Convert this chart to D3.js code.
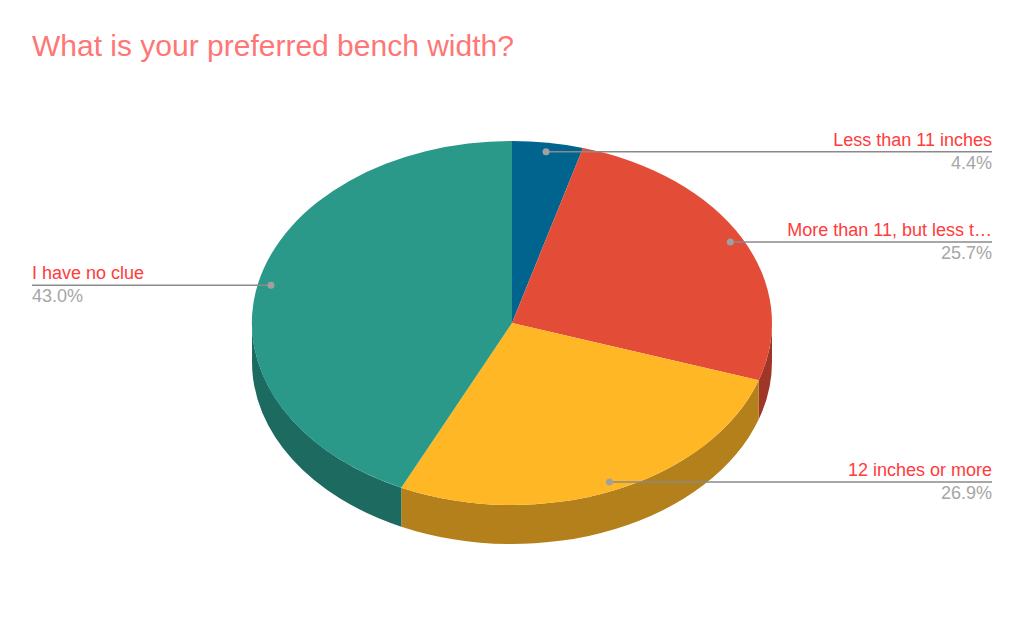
<!DOCTYPE html>
<html>
<head>
<meta charset="utf-8">
<script src="https://cdn.jsdelivr.net/npm/d3@7"></script>
<style>
  html, body { margin: 0; padding: 0; background: #fff; overflow: hidden; }
  text { font-family: "Liberation Sans", Arial, sans-serif; }
</style>
</head>
<body>
<div id="chart"></div>
<script>
var title = "What is your preferred bench width?";
var categories = ["Less than 11 inches", "More than 11, but less t\u2026", "12 inches or more", "I have no clue"];
var shares = [4.4, 25.7, 26.9, 43.0];
var topColors = ["#00648f", "#e34d38", "#ffb726", "#2a9989"];
var sideColors = ["#004664", "#9f3627", "#b3801b", "#1d6b60"];

var width = 1024, height = 633;
var cx = 512, cy = 323, rx = 260, ry = 182, depth = 39;

var svg = d3.select("#chart").append("svg")
  .attr("width", width)
  .attr("height", height)
  .style("display", "block");

svg.append("text")
  .attr("x", 32)
  .attr("y", 56)
  .attr("font-size", 30)
  .attr("fill", "#ff7676")
  .text(title);

var slices = d3.pie().sort(null).value(d => d)(shares);

// unit circle squashed into an ellipse for the tilted look
function px(a, r) { return cx + rx * (r === undefined ? 1 : r) * Math.sin(a); }
function py(a, r) { return cy - ry * (r === undefined ? 1 : r) * Math.cos(a); }

// side walls: only the part of the rim that faces the viewer
function wallPath(d) {
  var a0 = Math.max(d.startAngle, Math.PI / 2);
  var a1 = Math.min(d.endAngle, 3 * Math.PI / 2);
  if (a1 <= a0) return null;
  return "M" + px(a0) + "," + py(a0) +
    "A" + rx + "," + ry + " 0 0 1 " + px(a1) + "," + py(a1) +
    "L" + px(a1) + "," + (py(a1) + depth) +
    "A" + rx + "," + ry + " 0 0 0 " + px(a0) + "," + (py(a0) + depth) + "Z";
}

svg.append("g").selectAll("path")
  .data(slices.filter(d => wallPath(d)))
  .enter()
  .append("path")
  .attr("d", wallPath)
  .attr("fill", d => sideColors[d.index]);

var arc = d3.arc().innerRadius(0).outerRadius(1);

svg.append("g")
  .attr("transform", "translate(" + cx + "," + cy + ") scale(" + rx + "," + ry + ")")
  .selectAll("path")
  .data(slices)
  .enter()
  .append("path")
  .attr("d", arc)
  .attr("fill", d => topColors[d.index]);

// leader lines with labels
var labels = svg.append("g").selectAll("g")
  .data(slices)
  .enter()
  .append("g");

function mid(d) { return (d.startAngle + d.endAngle) / 2; }
function isLeft(d) { return mid(d) > Math.PI; }
function edgeX(d) { return isLeft(d) ? 32 : 992; }

labels.append("line")
  .attr("x1", d => px(mid(d), 0.95))
  .attr("y1", d => py(mid(d), 0.95))
  .attr("x2", edgeX)
  .attr("y2", d => py(mid(d), 0.95))
  .attr("stroke", "#8a8a8a")
  .attr("stroke-width", 1.5);

labels.append("circle")
  .attr("cx", d => px(mid(d), 0.95))
  .attr("cy", d => py(mid(d), 0.95))
  .attr("r", 3.5)
  .attr("fill", "#a0a0a0");

labels.append("text")
  .attr("x", edgeX)
  .attr("y", d => py(mid(d), 0.95) - 6)
  .attr("text-anchor", d => isLeft(d) ? "start" : "end")
  .attr("font-size", 18)
  .attr("fill", "#ff3b3b")
  .text(d => categories[d.index]);

labels.append("text")
  .attr("x", edgeX)
  .attr("y", d => py(mid(d), 0.95) + 17)
  .attr("text-anchor", d => isLeft(d) ? "start" : "end")
  .attr("font-size", 18)
  .attr("fill", "#a6a6a6")
  .text(d => d3.format(".1f")(d.data) + "%");
</script>
</body>
</html>
